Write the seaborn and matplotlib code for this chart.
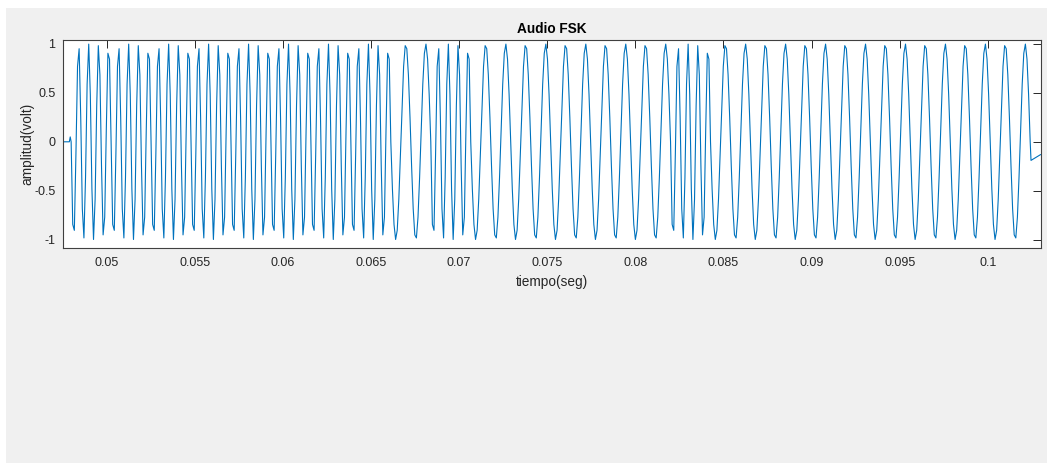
import numpy as np
import pandas as pd
import matplotlib
matplotlib.use("Agg")
import matplotlib.pyplot as plt
from matplotlib.patches import Rectangle
import seaborn as sns

# ---- data ----
fs = 11025                      # sample rate (Hz)
start_sample = 529              # first sample of the FSK burst
samples_per_bit = 25            # 441 baud
bits = [1, 1, 1, 1, 1, 1, 1, 1,
        0, 1, 0, 0, 0, 0, 0, 1,
        0, 0, 0, 0, 0, 0, 0, 0]  # 1 = high tone, 0 = low tone
freq_high = 1764.0
freq_low = 882.0
pre_t = [0.04752, 0.04788, 0.04793]   # before the burst
pre_v = [0.0, 0.0, 0.05]
tail_t = [0.10245, 0.10300]           # after the burst
tail_v = [-0.19, -0.13]

title = "Audio FSK"
xlabel = "tiempo(seg)"
ylabel = "amplitud(volt)"
xticks = [0.05, 0.055, 0.06, 0.065, 0.07, 0.075, 0.08, 0.085, 0.09, 0.095, 0.1]
yticks = [-1, -0.5, 0, 0.5, 1]
xlim = (0.04752, 0.10300)
ylim = (-1.085, 1.04)

# ---- build the sampled waveform ----
t_list, v_list = list(pre_t), list(pre_v)
for k, b in enumerate(bits):
    f = freq_high if b else freq_low
    n0 = start_sample + k * samples_per_bit
    n = np.arange(n0, n0 + samples_per_bit)
    t = n / fs
    t_list.extend(t)
    v_list.extend(-np.sin(2 * np.pi * f * (t - n0 / fs)))
n_end = start_sample + len(bits) * samples_per_bit
t_list.append(n_end / fs)
v_list.append(0.0)
t_list.extend(tail_t)
v_list.extend(tail_v)
df = pd.DataFrame({"t": t_list, "v": v_list})

# ---- style ----
sns.set_style("white")
plt.rcParams["font.family"] = ["Liberation Sans", "DejaVu Sans"]
TXT = "#262626"

W, H = 1047, 463
fig = plt.figure(figsize=(W / 100, H / 100), dpi=100, facecolor="white")
fig.patches.append(Rectangle((6 / W, 0), 1, (H - 8) / H, transform=fig.transFigure,
                             facecolor="#f0f0f0", edgecolor="none", zorder=-10))
ax = fig.add_axes([63 / W, (H - 248) / H, (1040.7 - 63) / W, 208 / H])
ax.set_facecolor("white")

sns.lineplot(data=df, x="t", y="v", ax=ax, color="#0072BD", linewidth=0.8,
             estimator=None, sort=False)

ax.set_xlim(*xlim)
ax.set_ylim(*ylim)
ax.set_xticks(xticks)
ax.set_yticks(yticks)
ax.set_xticklabels([f"{x:g}" for x in xticks])
ax.set_yticklabels([f"{y:g}" for y in yticks])
ax.tick_params(direction="in", top=True, right=True, length=6, width=0.7,
               color=TXT, labelcolor=TXT, labelsize=9)
ax.tick_params(axis="x", pad=6.5)
ax.tick_params(axis="y", pad=5.5)
for s in ax.spines.values():
    s.set_visible(True)
    s.set_color("#404040")
    s.set_linewidth(0.8)

ax.set_title(title, fontsize=9.8, fontweight="bold", color="black", pad=5)
ax.set_xlabel(xlabel, fontsize=9.8, color=TXT, labelpad=4)
ax.set_ylabel(ylabel, fontsize=9.8, color=TXT, labelpad=0)

fig.savefig("out.png", dpi=100, facecolor=fig.get_facecolor())
